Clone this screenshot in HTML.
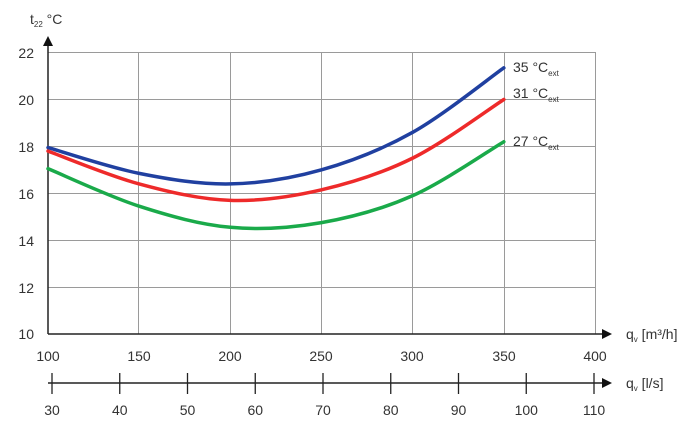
<!DOCTYPE html>
<html><head><meta charset="utf-8"><style>
html,body{margin:0;padding:0;background:#fff}
svg{display:block;font-family:"Liberation Sans",sans-serif;fill:#333}
text{font-size:14px}
</style></head><body>
<svg id="s" width="700" height="429" viewBox="0 0 700 429">
<g stroke="#9a9a9a" stroke-width="1">
<line x1="48" y1="52.5" x2="596" y2="52.5"/>
<line x1="48" y1="99.5" x2="596" y2="99.5"/>
<line x1="48" y1="146.5" x2="596" y2="146.5"/>
<line x1="48" y1="193.5" x2="596" y2="193.5"/>
<line x1="48" y1="240.5" x2="596" y2="240.5"/>
<line x1="48" y1="287.5" x2="596" y2="287.5"/>
<line x1="138.5" y1="52" x2="138.5" y2="334"/>
<line x1="230.5" y1="52" x2="230.5" y2="334"/>
<line x1="321.5" y1="52" x2="321.5" y2="334"/>
<line x1="412.5" y1="52" x2="412.5" y2="334"/>
<line x1="504.5" y1="52" x2="504.5" y2="334"/>
<line x1="595.5" y1="52" x2="595.5" y2="334"/>
</g>
<g stroke="#222" stroke-width="1.5">
<line x1="48" y1="42" x2="48" y2="334"/>
<line x1="48" y1="334" x2="604" y2="334"/>
<line x1="48" y1="383" x2="604" y2="383"/>
</g>
<polygon points="48,36 43,46 53,46" fill="#111"/>
<polygon points="612,334 602,329 602,339" fill="#111"/>
<polygon points="612,383 602,378 602,388" fill="#111"/>
<g stroke="#222" stroke-width="1.3" id="ticks"></g>
<g id="curves" fill="none" stroke-width="3.5" stroke-linecap="round"></g>
<g text-anchor="end">
<text x="34" y="58">22</text><text x="34" y="105">20</text><text x="34" y="152">18</text>
<text x="34" y="199">16</text><text x="34" y="246">14</text><text x="34" y="293">12</text><text x="34" y="339">10</text>
</g>
<g text-anchor="middle" id="xl">
<text x="48" y="361">100</text><text x="139" y="361">150</text><text x="230" y="361">200</text>
<text x="321" y="361">250</text><text x="412" y="361">300</text><text x="504" y="361">350</text><text x="595" y="361">400</text>
</g>
<g text-anchor="middle" id="xl2"></g>
<text x="30" y="24" font-size="15">t<tspan font-size="8" dy="3">22</tspan><tspan dy="-3"> °C</tspan></text>
<text x="626" y="339">q<tspan font-size="8" dy="3">v</tspan><tspan dy="-3"> [m³/h]</tspan></text>
<text x="626" y="388">q<tspan font-size="8" dy="3">v</tspan><tspan dy="-3"> [l/s]</tspan></text>
<text x="513" y="72">35 °C<tspan font-size="8" dy="4">ext</tspan></text>
<text x="513" y="98">31 °C<tspan font-size="8" dy="4">ext</tspan></text>
<text x="513" y="146">27 °C<tspan font-size="8" dy="4">ext</tspan></text>
</svg>
<script>
var NS="http://www.w3.org/2000/svg";
function el(p,t,a){var e=document.createElementNS(NS,t);for(var k in a)e.setAttribute(k,a[k]);p.appendChild(e);return e;}
var tg=document.getElementById('ticks'),xl2=document.getElementById('xl2');
for(var i=0;i<9;i++){var x=52+i*67.75;el(tg,'line',{x1:x,y1:373,x2:x,y2:394});var t=el(xl2,'text',{x:x,y:415});t.textContent=30+i*10;}
function X(v){return 48+(v-100)*547/300}
function Y(v){return 334-(v-10)*23.45}
function cr(pts){var d="M"+pts[0][0]+","+pts[0][1];for(var i=0;i<pts.length-1;i++){var p0=pts[i-1]||pts[i],p1=pts[i],p2=pts[i+1],p3=pts[i+2]||p2;
d+=" C"+(p1[0]+(p2[0]-p0[0])/6)+","+(p1[1]+(p2[1]-p0[1])/6)+" "+(p2[0]-(p3[0]-p1[0])/6)+","+(p2[1]-(p3[1]-p1[1])/6)+" "+p2[0]+","+p2[1];}return d;}
var cg=document.getElementById('curves');
var data=[
["#2040a0",[[100,17.95],[150,16.85],[200,16.4],[250,17.0],[300,18.6],[350,21.35]]],
["#ee2a2a",[[100,17.8],[150,16.4],[200,15.7],[250,16.15],[300,17.5],[350,20.0]]],
["#1aaa4a",[[100,17.05],[150,15.45],[200,14.55],[250,14.75],[300,15.9],[350,18.2]]]];
data.forEach(function(s){el(cg,'path',{d:cr(s[1].map(function(p){return[X(p[0]),Y(p[1])]})),stroke:s[0]});});
</script>
</body></html>
